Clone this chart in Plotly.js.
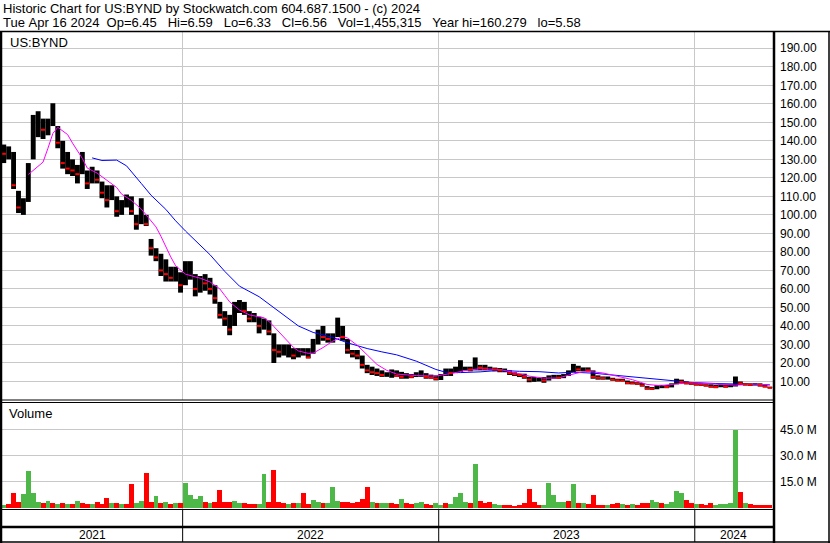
<!DOCTYPE html>
<html><head><meta charset="utf-8">
<script src="https://cdn.plot.ly/plotly-3.0.1.min.js"></script>
<style>html,body{margin:0;padding:0;background:#fff}#chart{width:830px;height:543px}</style>
</head><body><div id="chart"></div>
<script>
// ---- data (weekly) ----
const firstWeek = '2021-04-21';
const opens = [135,133,133,112,103,108,130,148,148,146,148,148,139,128,125,124,122,124,117,123,
118,112,108,110,102,105,108,100,95,100,86,82,77,70,68,66,67,62,70,68,
60,64,63,60,53,46,44,40,50,51,48,44,45,40,41,35,27,26,26,27,
24,25,26,25,31,35,34,33,34,38,32,27,25,23,18,16,15,14.5,13.5,13.5,
14,13,12.5,13,12.5,13.5,14,12.5,12,11.5,13,15,14.5,17,17,17,16.5,18,17.5,17,
17,16.5,16,16,14.5,14,13.5,12.5,11,11,11,10.5,12,12.5,12,13,15,17,16.5,16.5,
16,12.5,12,11.8,12,11,10.6,10.5,9.2,9,8.8,7.5,6.2,6.1,7,7.2,7,8.5,10.5,9.8,
9,8.8,8.4,8.2,7.8,7.2,7,7.4,7.2,7.3,9.5,9,8.5,8.2,8.3,7.9,7.0];
const highs = [138,137,134,113,109,128,154,156,152,152,160.3,148,140,134,130,127,134,124,126,124,
118,116,116,110,108,111,110,100,109,100,87,82,79,76,72,72,69,75,75,68,
67,68,66,62,53,48,46,53,54,53,48,47,45,44,43,36,30,30,30,28,
28,28,28,33,38,40,36,36,44.5,40,33,27,27,24,19,18,17,16,15,16.5,
16,15.2,14.5,14,15,16,14.5,13.7,13.3,14,17,17,18,21.5,18,18,23,19,19,18,
17.5,17.3,17,16,15,14.2,14.2,12.5,12.4,12,12.4,13.3,13.6,13.6,14,16,19.5,18.5,17.6,17.6,
16,13.3,12.7,12.7,12,11.5,11.5,10.5,10,9.6,9.1,7.5,7,8,8.2,8.2,9,11.5,11,10,
9.6,9.1,9.1,8.5,8.5,8.2,8.5,8.5,8.5,12.7,10,9.1,9,9.1,9,8.2,7.2];
const lows = [128,130,114,101,100,107,130,142,141,143,148,136,125,122,121,117,122,114,117,117,
109,104,108,99,100,104,100,92,95,94,78,75,67,64,64,64,58,62,65,56,
58,59,57,52,44,40,35,40,47,46,42,42,36,38,35,20,23,24,23,22,
23,24,22.5,25,30,32,31,31,34,32,25,23,22,17,14.5,13.5,13,12.5,12.5,12,
12.5,11.5,11.5,11.8,12.4,12.5,11.5,11.5,10.6,10.8,13,13,14.5,15,16,15.5,16,16,16,16,
15.5,15,15,13.5,13,12.4,11.5,9.6,9.8,10,9.3,10.5,11.5,11.5,11.8,13,15,15.5,15.5,15.5,
11.5,11,11,11,10.4,10,10,8.5,8.5,8.2,7.3,5.6,5.5,5.8,6.4,6.4,6.8,8.5,9,8.5,
8.2,7.8,7.6,7.3,6.7,6.4,6.9,6.7,6.9,7.3,8.2,7.8,7.6,7.8,7.3,6.9,6.33];
const closes = [133,134,116,104,107,126,148,148,146,147,152,139,128,125,124,122,126,117,123,119,
112,108,111,102,105,108,102,95,100,95,82,77,70,68,66,67,62,70,70,60,
64,63,60,55,46,44,38,50,51,48,44,45,40,41,37,27,26,26,27,24,
25,26,23,31,35,34,33,34,38,34,27,25,24,19,16,15,14.5,13.5,13.5,14,
13,12.5,13,12.5,13.5,14,12.5,12,11.5,13,15,14.5,17,17,17,16.5,18,17.5,17,17,
16.5,16,16,14.5,14,13.5,12.5,11,11,11,10.5,12,12.5,12,13,15,17,16.5,16.5,16,
12.5,12,11.8,12,11,10.6,10.5,9.2,9,8.8,7.8,6.2,6.1,7,7.2,7,8.5,10.5,9.8,9,
8.8,8.4,8.2,7.8,7.2,7,7.4,7.2,7.3,9.5,9,8.5,8.2,8.3,7.9,7.2,6.56];
// volume in millions
const volumes = [1.5,2,8.5,3.5,8,21,8.5,3,2.5,3.7, 2.5,2,2.5,2,1.8,3.7,2.5,2,2,3,
2,5.6,2.5,2.5,2,2,13.6,2.5,4,20, 3,6.5,2.5,3,2,2.5,2.5,14,7,5,
6.5,3,2.5,3,10.4,3,3,4,2.5,2.5, 2,2,2,19.4,3,21.5,3,2.5,2,2.5,
2.5,8.5,2,4.2,3,2.5,2.5,11.7,4,3.5, 3,2.5,3.5,5,11.7,3,2.5,2.5,2.5,2.5,
2,5.2,2.5,2,2.5,3,2,1.5,2.5,1.5, 2.5,2,6,8.3,3,2.5,25,3.7,2.5,3,
2,1.5,1.5,1.5,1.2,1.5,2.5,11,3,1.5, 1.5,14,7,3,3,4,13.5,2.5,2.5,2,
7,1.5,1.5,1.5,2,2.5,2,1.5,2,1.5, 2.5,2.5,4.2,3,2.5,2,3,9.4,8.3,4.2,
2.5,2,2,1.5,2.5,1.5,2,2,2.5,44.6, 8.8,2.5,2,1.5,1.5,1.5,1.5];
// 1 = up day volume (green), 0 = down (red)
const volUp = [1,0,0,0,1,1,1,1,0,1, 0,1,0,1,0,1,0,0,1,0, 0,0,1,0,1,0,0,1,1,0, 0,1,0,1,0,1,0,1,1,1,
1,0,1,0,0,0,0,1,1,0, 0,0,1,1,0,0,0,0,1,0, 1,0,0,1,1,0,1,1,1,0, 0,0,0,0,0,1,0,1,1,0,
0,1,0,0,1,1,0,0,1,1, 0,1,1,1,1,0,1,0,0,0, 1,1,0,0,0,0,0,0,0,0, 1,1,1,1,1,0,1,0,1,0,
0,0,0,1,0,0,1,0,1,0, 0,0,1,1,0,1,1,1,1,0, 0,1,0,0,0,1,1,1,1,1, 0,1,0,0,0,0,0];
// short moving average (magenta): week index / value
const maShortWeek = [5,8,9,10,11,13,14,16,17,19,21,23,24,26,28,30,31,32,33,34,35,37,39,40,42,44,45,46,48,50,
53,54,55,57,59,60,62,63,65,67,69,70,72,74,76,78,80,84,88,91,94,97,101,104,107,110,113,115,118,120,
122,125,128,131,134,137,140,143,147,149,153,156];
const maShortVal = [121.8,128.5,136,144,147.3,143.4,138.8,130.5,125.3,122.6,118.7,114.8,111.2,107.8,103.2,97.1,93.5,88.5,82.6,77.3,
72.5,68,66.5,65.8,63.8,60,56.5,53,48.6,46,44.4,42.5,39.7,33.9,28.4,26.5,25.2,25.3,28.3,31.8,
34.3,33.5,29.5,24.4,19.2,16,14,13.2,12.9,14.3,15.9,16.9,16.5,14.8,12.9,11.8,11.9,13.4,15.3,15.2,
14.6,12.8,11,8.4,7.7,8.7,9.3,8.9,8.2,8,8.6,8.1];
// long moving average (blue)
const maLongWeek = [18,20,23,25,28,30,33,35,37,40,42,45,48,52,56,60,63,67,70,74,77,80,84,88,90,93,97,101,105,109,113,116,120,125,130,135,140,145,150,156];
const maLongVal = [130.8,129.4,129.6,126.5,117,110.6,103,96.8,91.3,83.4,78.5,69.5,61.5,55.8,48,40,36.5,33.8,30.9,27.8,
26,24.4,21,16.5,15,14.8,15.2,16,15.5,15.3,14.6,15,14.5,13.2,12,10.8,9.5,8.9,8.5,8.2];
const priceTicks = [10,20,30,40,50,60,70,80,90,100,110,120,130,140,150,160,170,180,190];
const volTicks = [15,30,45];
const yearLabels = ['2021','2022','2023','2024'];
const yearStarts = ['2022-01-01','2023-01-01','2024-01-01'];
const headerLine1 = 'Historic Chart for US:BYND by Stockwatch.com 604.687.1500 - (c) 2024';
const headerLine2 = 'Tue Apr 16 2024  Op=6.45   Hi=6.59   Lo=6.33   Cl=6.56   Vol=1,455,315   Year hi=160.279   lo=5.58';
const symbolLabel = 'US:BYND';

// ---- build ----
function weekDate(k){const d=new Date(firstWeek+'T00:00:00Z');d.setUTCDate(d.getUTCDate()+7*k);return d.toISOString().slice(0,10);}
const dates = opens.map((_,k)=>weekDate(k));
const xStart='2021-04-18 12:00', xEnd='2024-04-21 12:00';
const PL=2, PR=773, PT=32, PB=509;
const X = px => (px-PL)/(PR-PL);
const Y = py => (PB-py)/(PB-PT);
const FONT = 'Liberation Sans, Arial, sans-serif';
const GREEN='#4db848', RED='#ff0000', GRID='#c8c8c8';

const downIdx = closes.map((c,i)=>c<opens[i]?i:-1).filter(i=>i>=0);

const traces = [
 {type:'bar', x:dates, y:volumes, xaxis:'x', yaxis:'y2',
  marker:{color:volUp.map(u=>u?GREEN:RED), line:{width:0}}, hoverinfo:'skip'},
 {type:'scatter', mode:'lines', x:maLongWeek.map(weekDate), y:maLongVal, xaxis:'x', yaxis:'y',
  line:{color:'#0000ff', width:1}, hoverinfo:'skip'},
 {type:'scatter', mode:'lines', x:maShortWeek.map(weekDate), y:maShortVal, xaxis:'x', yaxis:'y',
  line:{color:'#ff00ff', width:1}, hoverinfo:'skip'},
 {type:'ohlc', x:dates, open:opens, high:highs, low:lows, close:closes, xaxis:'x', yaxis:'y',
  increasing:{line:{color:'#000000', width:4.9}}, decreasing:{line:{color:'#000000', width:4.9}},
  tickwidth:0, hoverinfo:'skip'},
 {type:'scatter', mode:'markers', x:downIdx.map(i=>dates[i]), y:downIdx.map(i=>closes[i]), xaxis:'x', yaxis:'y',
  marker:{symbol:'line-ew', size:3, line:{color:RED, width:2}}, hoverinfo:'skip'}
];

const line=(x0,y0,x1,y1,w)=>({type:'line',xref:'paper',yref:'paper',x0:X(x0),y0:Y(y0),x1:X(x1),y1:Y(y1),line:{color:'#000',width:w}});
const shapes=[
 line(0,31.5,830,31.5,1.5),
 line(1,31.5,1,543,2.5),
 line(774,31.5,774,543,2.5),
 line(829,31.5,829,543,1.5),
 line(0,400,774,400,1),
 line(0,402.5,774,402.5,1),
 line(0,509.5,774,509.5,1),
 line(0,527,774,527,2.5),
 line(0,542,830,542,1.5)
];
const annotations=[
 {text:headerLine1.replace(/ /g,'\u00a0'), xref:'paper', yref:'paper', x:X(1), y:Y(8), xanchor:'left', yanchor:'middle', showarrow:false, font:{family:FONT,size:13,color:'#000'}},
 {text:headerLine2.replace(/ /g,'\u00a0'), xref:'paper', yref:'paper', x:X(1), y:Y(22), xanchor:'left', yanchor:'middle', showarrow:false, font:{family:FONT,size:13,color:'#000'}},
 {text:symbolLabel, xref:'paper', yref:'paper', x:X(8), y:Y(43), xanchor:'left', yanchor:'middle', showarrow:false, font:{family:FONT,size:13,color:'#000'}},
 {text:'Volume', xref:'paper', yref:'paper', x:X(7), y:Y(413), xanchor:'left', yanchor:'middle', showarrow:false, font:{family:FONT,size:13,color:'#000'}}
];
// year row: separators and centred labels
const bounds=[xStart].concat(yearStarts).concat([xEnd]);
const ms=s=>new Date(s.replace(' ','T')+(s.length>10?':00Z':'T00:00:00Z')).getTime();
yearStarts.forEach(d=>shapes.push({type:'line',xref:'x',yref:'paper',x0:d,x1:d,y0:Y(509.5),y1:Y(542),line:{color:'#000',width:1}}));
yearLabels.forEach((t,i)=>{
  const mid=new Date((ms(bounds[i])+ms(bounds[i+1]))/2).toISOString().slice(0,16).replace('T',' ');
  annotations.push({text:t, xref:'x', yref:'paper', x:mid, y:Y(535), xanchor:'center', yanchor:'middle', showarrow:false, font:{family:FONT,size:12,color:'#000'}});
});

const layout={
 width:830, height:543, paper_bgcolor:'#fff', plot_bgcolor:'#fff', showlegend:false,
 margin:{l:PL, r:830-PR, t:PT, b:543-PB, pad:0}, bargap:0,
 xaxis:{type:'date', range:[xStart,xEnd], tickvals:yearStarts, showticklabels:false, ticks:'',
   showgrid:true, gridcolor:GRID, gridwidth:1, zeroline:false, showline:false, rangeslider:{visible:false}, fixedrange:true},
 yaxis:{domain:[Y(400),1], range:[0,198.8], side:'right', tickvals:priceTicks, ticktext:priceTicks.map(v=>v.toFixed(2)),
   showgrid:true, gridcolor:GRID, gridwidth:1, zeroline:false, showline:false, ticks:'', ticklabelstandoff:6,
   tickfont:{family:FONT,size:12,color:'#000'}, fixedrange:true},
 yaxis2:{domain:[0,Y(402.5)], range:[-0.8,60.6], side:'right', anchor:'x', tickvals:volTicks, ticktext:volTicks.map(v=>v.toFixed(1)+' M'),
   showgrid:true, gridcolor:GRID, gridwidth:1, zeroline:false, showline:false, ticks:'', ticklabelstandoff:6,
   tickfont:{family:FONT,size:12,color:'#000'}, fixedrange:true},
 shapes:shapes, annotations:annotations
};
Plotly.newPlot('chart', traces, layout, {staticPlot:true, displayModeBar:false});
</script></body></html>
